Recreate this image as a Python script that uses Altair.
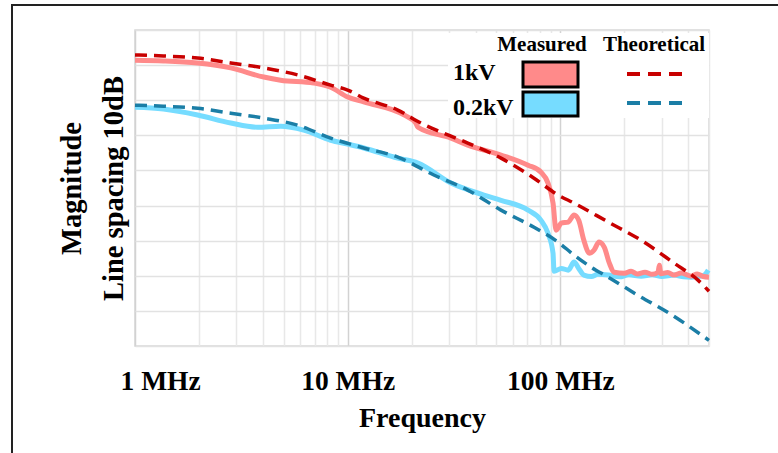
import altair as alt
import pandas as pd

# ---------------- data (frequency in MHz, magnitude in dB, 10 dB per grid line) ----------------
theo_1kv_f = [1, 1.36, 1.97, 2.82, 4.03, 5.82, 8.32, 10, 11.9, 17.2, 22.1, 36.7, 52.6, 75.2, 97.5, 116, 168, 240, 343, 445, 500]
theo_1kv_db = [82.9, 82.6, 82.0, 80.6, 79.2, 77.2, 74.3, 72.9, 70.6, 67.2, 63.5, 57.8, 53.5, 47.8, 43.0, 40.7, 35.3, 30.1, 23.6, 18.7, 15.6]

theo_02kv_f = [1, 1.36, 1.97, 2.82, 4.03, 5.82, 8.32, 11.9, 17.2, 25.4, 36.7, 52.6, 75.2, 97.5, 116, 140, 168, 240, 308, 500]
theo_02kv_db = [68.6, 68.3, 67.7, 66.3, 64.9, 62.9, 59.2, 56.4, 53.8, 48.7, 44.4, 38.7, 33.8, 29.6, 25.9, 22.4, 19.6, 13.9, 10.2, 1.6]

meas_1kv_f = [1, 1.36, 1.97, 2.82, 4.03, 4.84, 6.92, 8.32, 10, 11.9, 18.4, 20.9, 21.4, 30.6, 36.7, 52.6, 70.5, 81.1, 87.5,
              92.4, 95.5, 101, 109, 116, 122, 129, 137, 144, 152, 161, 170, 179, 200, 215, 230, 250, 270, 288, 292, 297,
              320, 343, 370, 412, 440, 470, 500]
meas_1kv_db = [81.4, 81.2, 80.6, 79.2, 76.6, 75.7, 74.9, 73.7, 70.9, 69.5, 65.8, 63.5, 62.3, 59.2, 57.2, 54.4, 51.5, 49.5, 46.4,
               40.7, 33.0, 35.0, 35.3, 37.3, 35.8, 30.1, 26.4, 27.3, 29.6, 28.1, 23.6, 21.0, 20.7, 21.3, 20.5, 21.0, 20.4, 21.0, 23.0, 20.6,
               20.9, 20.2, 20.8, 19.9, 20.5, 19.8, 19.6]

meas_02kv_f = [1, 1.36, 1.97, 2.82, 3.77, 4.84, 6.21, 8.32, 10, 11.9, 17.2, 21.4, 30.6, 43.7, 52.6, 70.5, 81.1, 87.5, 92.4,
               93.4, 101, 109, 116, 122, 129, 140, 150, 168, 190, 210, 240, 270, 300, 343, 380, 412, 460, 480, 496]
meas_02kv_db = [68.0, 67.5, 65.8, 63.5, 62.3, 62.6, 61.5, 58.6, 57.5, 56.4, 53.5, 52.1, 46.4, 43.0, 41.5, 38.7, 35.8, 32.1, 26.4,
                21.3, 22.1, 21.6, 23.9, 22.1, 20.2, 19.8, 20.4, 20.2, 19.7, 20.3, 19.9, 20.3, 19.8, 20.2, 19.7, 19.6, 19.9, 20.4, 21.6]

x_grid_values = [1, 2, 3, 4, 5, 6, 7, 8, 9, 10, 20, 30, 40, 50, 60, 70, 80, 90, 100, 200, 300, 400, 500]
y_grid_values = list(range(0, 91, 10))

legend_headers = ["Measured", "Theoretical"]
legend_rows = ["1kV", "0.2kV"]
measured_colors = ["#FF8A8A", "#76DCFF"]
theoretical_colors = ["#C80000", "#1B7EA6"]

FONT = "Liberation Serif"
W, H = 574, 316

# ---------------- chart ----------------
x_enc = alt.X(
    "f:Q",
    scale=alt.Scale(type="log", domain=[1, 500], nice=False),
    axis=alt.Axis(
        values=x_grid_values,
        labelExpr="datum.value == 1 ? '1 MHz' : datum.value == 10 ? '10 MHz' : datum.value == 100 ? '100 MHz' : ''",
        grid=True,
        gridColor={"condition": {"test": "datum.value == 1 || datum.value == 10 || datum.value == 100", "value": "#d2d2d2"},
                   "value": "#e8e8e8"},
        gridWidth=1.5,
        ticks=False,
        domain=False,
        labelFont=FONT, labelFontWeight="bold", labelFontSize=27.5, labelColor="black",
        labelPadding=21, labelOverlap=False, labelFlush=True, labelFlushOffset=15,
        title="Frequency", titleFont=FONT, titleFontWeight="bold", titleFontSize=28, titleColor="black",
        titlePadding=10,
    ),
)
y_enc = alt.Y(
    "db:Q",
    scale=alt.Scale(domain=[0, 90], nice=False),
    axis=alt.Axis(
        values=y_grid_values, labels=False, ticks=False, domain=False,
        grid=True, gridColor="#e2e2e2", gridWidth=1.5,
        title=["Magnitude", "Line spacing 10dB"], titleFont=FONT, titleFontWeight="bold", titleFontSize=28.5,
        titleColor="black", titleLineHeight=42, titlePadding=7,
    ),
)


def series(fs, dbs):
    return pd.DataFrame({"f": fs, "db": dbs})


m02 = alt.Chart(series(meas_02kv_f, meas_02kv_db)).mark_line(
    color=measured_colors[1], strokeWidth=5, interpolate="monotone").encode(x=x_enc, y=y_enc)
m1 = alt.Chart(series(meas_1kv_f, meas_1kv_db)).mark_line(
    color=measured_colors[0], strokeWidth=5, interpolate="monotone").encode(x=x_enc, y=y_enc)
t02 = alt.Chart(series(theo_02kv_f, theo_02kv_db)).mark_line(
    color=theoretical_colors[1], strokeWidth=3.5, strokeDash=[12, 7], interpolate="monotone").encode(x=x_enc, y=y_enc)
t1 = alt.Chart(series(theo_1kv_f, theo_1kv_db)).mark_line(
    color=theoretical_colors[0], strokeWidth=3.5, strokeDash=[12, 7], interpolate="monotone").encode(x=x_enc, y=y_enc)

dummy = alt.Chart(pd.DataFrame({"k": [0]}))

# outer frame of the figure
frame = dummy.mark_rect(fillOpacity=0, stroke="#222222", strokeWidth=2).encode(
    x=alt.value(-123), x2=alt.value(700), y=alt.value(-25), y2=alt.value(460))

# legend (custom two-column legend inside the plot)
legend_bg = dummy.mark_rect(fill="white").encode(
    x=alt.value(313), x2=alt.value(574), y=alt.value(3), y2=alt.value(88))

legend_layers = [legend_bg]
header_x = [407, 519]
for txt, hx in zip(legend_headers, header_x):
    legend_layers.append(dummy.mark_text(text=txt, font=FONT, fontWeight="bold", fontSize=21, color="black",
                                         align="center", baseline="alphabetic").encode(x=alt.value(hx), y=alt.value(21)))
row_y = [50, 85]
sw_y = [(32, 57), (62, 86)]
dash_y = [44, 73]
for i, txt in enumerate(legend_rows):
    legend_layers.append(dummy.mark_text(text=txt, font=FONT, fontWeight="bold", fontSize=24, color="black",
                                         align="left", baseline="alphabetic").encode(x=alt.value(318), y=alt.value(row_y[i])))
    legend_layers.append(dummy.mark_rect(fill=measured_colors[i], stroke="black", strokeWidth=3).encode(
        x=alt.value(388), x2=alt.value(443), y=alt.value(sw_y[i][0]), y2=alt.value(sw_y[i][1])))
    legend_layers.append(dummy.mark_rule(color=theoretical_colors[i], strokeWidth=4, strokeDash=[13, 8]).encode(
        x=alt.value(492), x2=alt.value(547), y=alt.value(dash_y[i])))

chart = alt.layer(frame, m02, m1, t02, t1, *legend_layers).properties(
    width=W, height=H,
    autosize=alt.AutoSizeParams(type="none"),
    padding={"left": 135, "top": 30, "right": 69, "bottom": 107},
    background="white",
).configure_view(stroke="#d6d6d6", strokeWidth=1.5)

chart.save("out.html", embed_options={"renderer": "svg", "actions": False})
